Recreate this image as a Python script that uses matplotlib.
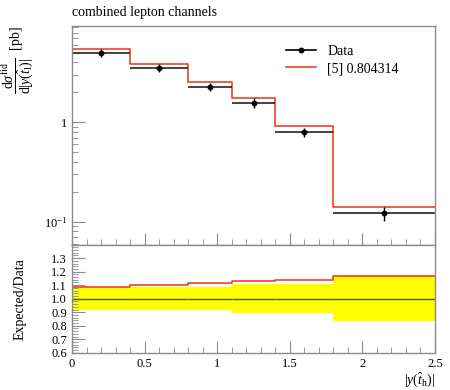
#!/usr/bin/env python3
"""Distribucion |y(t_l)| combinada, datos vs prediccion, con panel de cociente."""
import matplotlib
matplotlib.use("Agg")
import matplotlib.pyplot as plt
from matplotlib.lines import Line2D
from matplotlib.ticker import FixedLocator, MultipleLocator, NullFormatter
import numpy as np

plt.rcParams["font.family"] = ["Liberation Serif", "DejaVu Serif"]
plt.rcParams["mathtext.fontset"] = "custom"
plt.rcParams["mathtext.rm"] = "Liberation Serif"
plt.rcParams["mathtext.it"] = "Liberation Serif:italic"
plt.rcParams["mathtext.bf"] = "Liberation Serif:bold"

# datos
bordes = [0.0, 0.4, 0.8, 1.1, 1.4, 1.8, 2.5]
datos = [5.0, 3.54, 2.26, 1.57, 0.80, 0.121]
err_rel = [0.087, 0.087, 0.087, 0.106, 0.106, 0.168]
cociente = [1.085, 1.100, 1.117, 1.128, 1.139, 1.168]
etiqueta_pred = "[5] 0.804314"

bordes = np.array(bordes)
datos = np.array(datos)
err_rel = np.array(err_rel)
cociente = np.array(cociente)
centros = 0.5 * (bordes[:-1] + bordes[1:])
pred = datos * cociente


def escalon(v):
    """Repite el ultimo valor para dibujar con step='post'."""
    return np.append(v, v[-1])


rojo = "#EE3311"
gris = "#8a8a8a"

fig = plt.figure(figsize=(4.5, 3.9), dpi=100)
ax = fig.add_axes([0.16, 0.3726, 0.8067, 0.5607])
ar = fig.add_axes([0.16, 0.0956, 0.8067, 0.2770], sharex=ax)

# panel principal
ax.step(bordes, escalon(pred), where="post", color=rojo, lw=1.1)
ax.hlines(datos, bordes[:-1], bordes[1:], color="#222222", lw=1.2)
ax.errorbar(centros, datos, yerr=datos * err_rel, fmt="o", ms=3.2,
            color="black", elinewidth=1.0, capsize=0)
ax.set_yscale("log")
ax.set_ylim(0.0587, 9.3)
ax.set_xlim(0, 2.5)
ax.yaxis.set_major_locator(FixedLocator([0.1, 1]))
ax.yaxis.set_minor_locator(FixedLocator(
    [k * 10.0 ** e for e in (-2, -1, 0) for k in range(2, 10)]))
ax.yaxis.set_minor_formatter(NullFormatter())
ax.set_yticklabels([r"$10^{-1}$", "1"])
ax.tick_params(axis="x", labelbottom=False)
ax.set_ylabel(r"$\dfrac{\mathrm{d}\sigma^{\mathrm{fid}}}"
              r"{\mathrm{d}|y(\hat{t}_{\mathrm{l}})|}$  [pb]",
              loc="top", fontsize=10)
ax.set_title("combined lepton channels", loc="left", fontsize=10, pad=7)

h_dat = Line2D([], [], color="black", marker="o", ms=3.2, lw=1.2)
h_pre = Line2D([], [], color=rojo, lw=1.1)
ax.legend([h_dat, h_pre], ["Data", etiqueta_pred], loc="upper right",
          bbox_to_anchor=(0.935, 0.97), frameon=False, fontsize=10,
          handlelength=2.2, handletextpad=0.8, labelspacing=0.3)

# panel de cociente
ar.fill_between(bordes, escalon(1 - err_rel), escalon(1 + err_rel),
                step="post", color="#FFFF00", lw=0)
ar.hlines(np.ones_like(datos), bordes[:-1], bordes[1:], color="#55552a",
          lw=1.0)
ar.step(bordes, escalon(cociente), where="post", color=rojo, lw=1.1)
ar.set_ylim(0.6, 1.4)
ar.yaxis.set_major_locator(FixedLocator([0.6, 0.7, 0.8, 0.9, 1.0, 1.1, 1.2, 1.3]))
ar.yaxis.set_minor_locator(MultipleLocator(0.02))
ar.set_yticklabels(["0.6", "0.7", "0.8", "0.9", "1.0", "1.1", "1.2", "1.3"])
ar.set_ylabel("Expected/Data", fontsize=10)
ar.set_xlabel(r"$|y(\hat{t}_{\mathrm{h}})|$", loc="right", fontsize=10,
              labelpad=1)
ar.xaxis.set_major_locator(FixedLocator([0, 0.5, 1, 1.5, 2, 2.5]))
ar.xaxis.set_minor_locator(MultipleLocator(0.1))
ar.set_xticklabels(["0", "0.5", "1", "1.5", "2", "2.5"])

for a in (ax, ar):
    for s in a.spines.values():
        s.set_color(gris)
        s.set_linewidth(1.0)
    a.tick_params(which="both", direction="in", color=gris, labelsize=9,
                  top=False, right=False)
    a.tick_params(which="major", length=9)
    a.tick_params(which="minor", length=4)
ax.yaxis.set_label_coords(-0.10, 1.0)
ar.yaxis.set_label_coords(-0.125, 0.5)

fig.savefig("out.png", dpi=100)
